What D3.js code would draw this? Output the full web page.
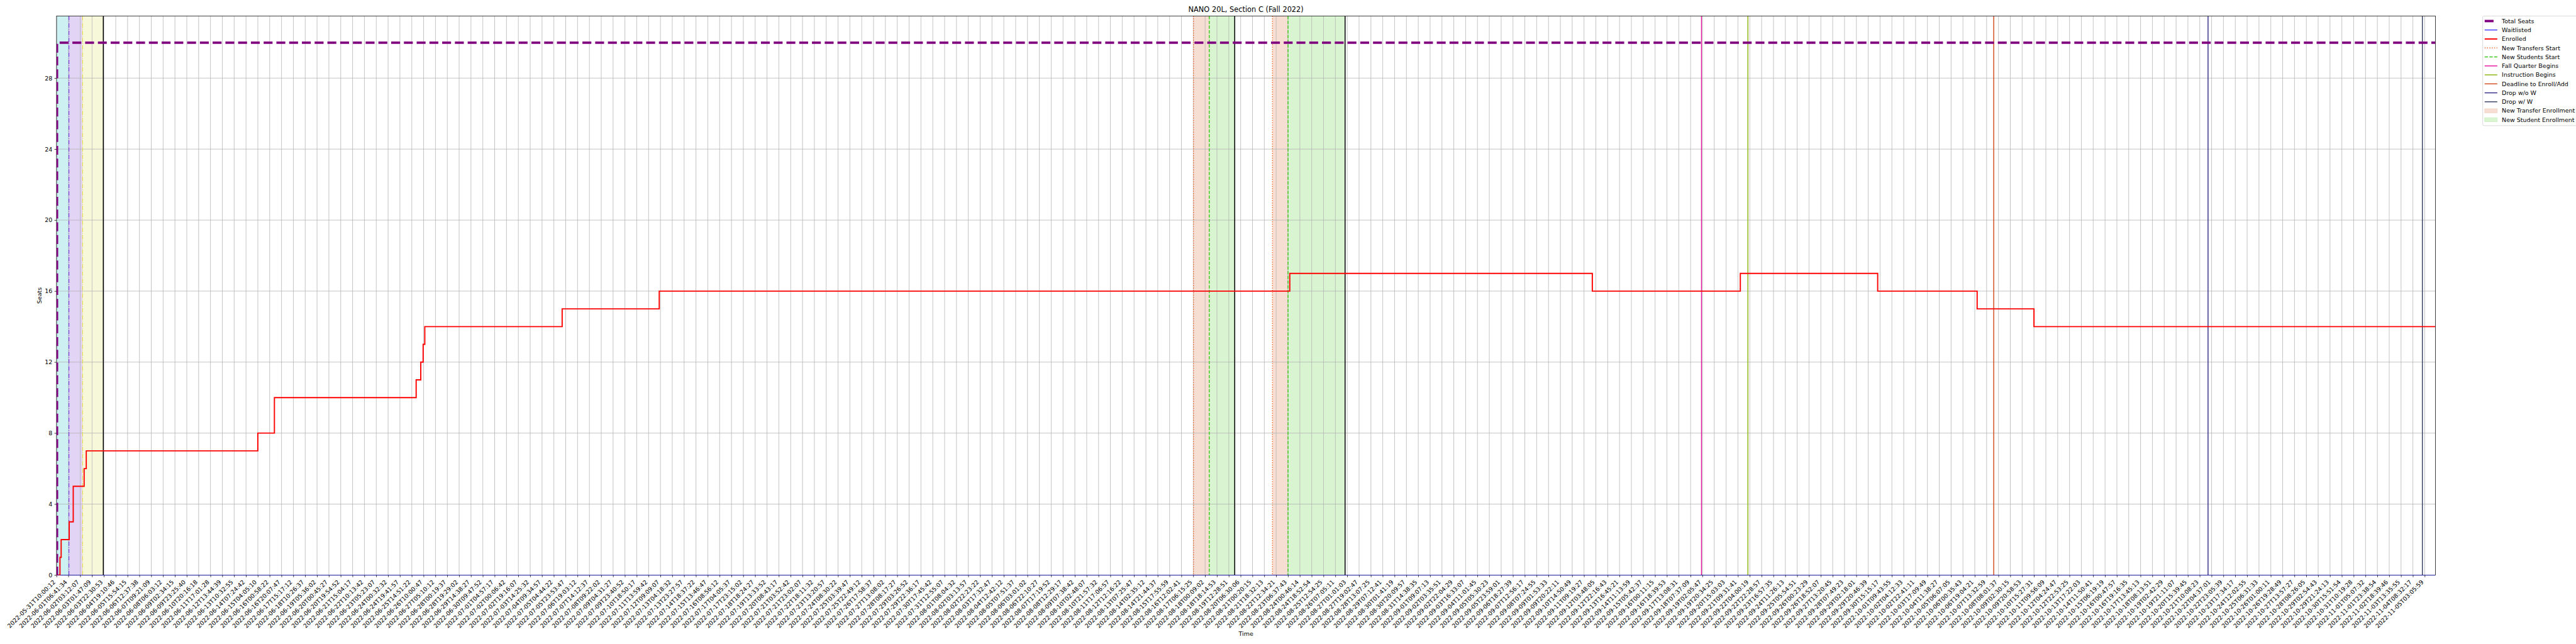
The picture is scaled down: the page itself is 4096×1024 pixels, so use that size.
<!DOCTYPE html>
<html><head><meta charset="utf-8">
<script src="https://cdn.jsdelivr.net/npm/d3@7"></script>
<style>body{margin:0;background:#fff}svg{display:block}text{font-family:"DejaVu Sans",sans-serif;fill:#000}</style>
</head><body>
<script>
// ---------------- data ----------------
const chartTitle = "NANO 20L, Section C (Fall 2022)";
const xLabel = "Time";
const yLabel = "Seats";
const yTicks = [0, 4, 8, 12, 16, 20, 24, 28];
const tickLabels = [
"2022-05-31T10:00:12","2022-06-01T06:41:34","2022-06-02T03:12:07","2022-06-03T01:47:09","2022-06-03T22:30:53","2022-06-04T19:10:46","2022-06-05T15:54:15","2022-06-06T12:37:38","2022-06-07T09:21:09","2022-06-08T06:03:12",
"2022-06-09T02:34:15","2022-06-09T23:25:40","2022-06-10T20:16:18","2022-06-11T17:01:28","2022-06-12T13:44:39","2022-06-13T10:32:55","2022-06-14T07:24:42","2022-06-15T04:05:10","2022-06-16T00:58:22","2022-06-16T20:07:47",
"2022-06-17T15:17:12","2022-06-18T10:26:37","2022-06-19T05:36:02","2022-06-20T00:45:27","2022-06-20T19:54:52","2022-06-21T15:04:17","2022-06-22T10:13:42","2022-06-23T05:23:07","2022-06-24T00:32:32","2022-06-24T19:41:57",
"2022-06-25T14:51:22","2022-06-26T10:00:47","2022-06-27T05:10:12","2022-06-28T00:19:37","2022-06-28T19:29:02","2022-06-29T14:38:27","2022-06-30T09:47:52","2022-07-01T04:57:17","2022-07-02T00:06:42","2022-07-02T19:16:07",
"2022-07-03T14:25:32","2022-07-04T09:34:57","2022-07-05T04:44:22","2022-07-05T23:53:47","2022-07-06T19:03:12","2022-07-07T14:12:37","2022-07-08T09:22:02","2022-07-09T04:31:27","2022-07-09T23:40:52","2022-07-10T18:50:17",
"2022-07-11T13:59:42","2022-07-12T09:09:07","2022-07-13T04:18:32","2022-07-13T23:27:57","2022-07-14T18:37:22","2022-07-15T13:46:47","2022-07-16T08:56:12","2022-07-17T04:05:37","2022-07-17T23:15:02","2022-07-18T18:24:27",
"2022-07-19T13:33:52","2022-07-20T08:43:17","2022-07-21T03:52:42","2022-07-21T23:02:07","2022-07-22T18:11:32","2022-07-23T13:20:57","2022-07-24T08:30:22","2022-07-25T03:39:47","2022-07-25T22:49:12","2022-07-26T17:58:37",
"2022-07-27T13:08:02","2022-07-28T08:17:27","2022-07-29T03:26:52","2022-07-29T22:36:17","2022-07-30T17:45:42","2022-07-31T12:55:07","2022-08-01T08:04:32","2022-08-02T03:13:57","2022-08-02T22:23:22","2022-08-03T17:32:47",
"2022-08-04T12:42:12","2022-08-05T07:51:37","2022-08-06T03:01:02","2022-08-06T22:10:27","2022-08-07T17:19:52","2022-08-08T12:29:17","2022-08-09T07:38:42","2022-08-10T02:48:07","2022-08-10T21:57:32","2022-08-11T17:06:57",
"2022-08-12T12:16:22","2022-08-13T07:25:47","2022-08-14T02:35:12","2022-08-14T21:44:37","2022-08-15T17:55:59","2022-08-16T12:02:41","2022-08-17T06:15:25","2022-08-18T00:09:02","2022-08-18T18:14:53","2022-08-19T12:28:51",
"2022-08-20T06:30:06","2022-08-21T00:20:15","2022-08-21T18:32:13","2022-08-22T12:34:21","2022-08-23T06:37:43","2022-08-24T00:46:14","2022-08-24T18:52:54","2022-08-25T12:54:25","2022-08-26T07:05:11","2022-08-27T01:01:03",
"2022-08-27T19:02:47","2022-08-28T13:07:25","2022-08-29T07:12:41","2022-08-30T01:41:19","2022-08-30T20:09:57","2022-08-31T14:38:35","2022-09-01T09:07:13","2022-09-02T03:35:51","2022-09-02T22:04:29","2022-09-03T16:33:07",
"2022-09-04T11:01:45","2022-09-05T05:30:23","2022-09-05T23:59:01","2022-09-06T18:27:39","2022-09-07T12:56:17","2022-09-08T07:24:55","2022-09-09T01:53:33","2022-09-09T20:22:11","2022-09-10T14:50:49","2022-09-11T09:19:27",
"2022-09-12T03:48:05","2022-09-12T22:16:43","2022-09-13T16:45:21","2022-09-14T11:13:59","2022-09-15T05:42:37","2022-09-16T00:11:15","2022-09-16T18:39:53","2022-09-17T13:08:31","2022-09-18T07:37:09","2022-09-19T02:05:47",
"2022-09-19T20:34:25","2022-09-20T15:03:03","2022-09-21T09:31:41","2022-09-22T04:00:19","2022-09-22T22:28:57","2022-09-23T16:57:35","2022-09-24T11:26:13","2022-09-25T05:54:51","2022-09-26T00:23:29","2022-09-26T18:52:07",
"2022-09-27T13:20:45","2022-09-28T07:49:23","2022-09-29T02:18:01","2022-09-29T20:46:39","2022-09-30T15:15:17","2022-10-01T09:43:55","2022-10-02T04:12:33","2022-10-02T22:41:11","2022-10-03T17:09:49","2022-10-04T11:38:27",
"2022-10-05T06:07:05","2022-10-06T00:35:43","2022-10-06T19:04:21","2022-10-07T13:32:59","2022-10-08T08:01:37","2022-10-09T02:30:15","2022-10-09T20:58:53","2022-10-10T15:27:31","2022-10-11T09:56:09","2022-10-12T04:24:47",
"2022-10-12T22:53:25","2022-10-13T17:22:03","2022-10-14T11:50:41","2022-10-15T06:19:19","2022-10-16T00:47:57","2022-10-16T19:16:35","2022-10-17T13:45:13","2022-10-18T08:13:51","2022-10-19T02:42:29","2022-10-19T21:11:07",
"2022-10-20T15:39:45","2022-10-21T10:08:23","2022-10-22T04:37:01","2022-10-22T23:05:39","2022-10-23T17:34:17","2022-10-24T12:02:55","2022-10-25T06:31:33","2022-10-26T01:00:11","2022-10-26T19:28:49","2022-10-27T13:57:27",
"2022-10-28T08:26:05","2022-10-29T02:54:43","2022-10-29T21:24:13","2022-10-30T15:51:54","2022-10-31T10:19:28","2022-11-01T05:07:32","2022-11-01T23:38:54","2022-11-02T18:39:46","2022-11-03T13:35:55","2022-11-04T08:32:17",
"2022-11-05T03:05:59"
];
const xEnd = 200.9; // right end of the time axis, in tick positions

const totalSeatsX = [0, 0.036, xEnd];
const totalSeatsY = [0, 30, 30];
const waitlistedX = [0, xEnd];
const waitlistedY = [0, 0];
const enrolledX = [0, 0.29, 0.39, 1.07, 1.41, 2.33, 2.51, 17.0, 18.4, 30.37, 30.76, 30.96, 31.1, 42.7, 50.9, 104.15, 129.7, 142.2, 153.8, 162.2, 167.0, xEnd];
const enrolledY = [0, 1, 2, 3, 5, 6, 7, 8, 10, 11, 12, 13, 14, 15, 16, 17, 16, 17, 16, 15, 14, 14];

// event markers (vertical lines)
const transfersStart = [96.02, 102.69];
const studentsStart = [97.35, 104.0];
const fallQuarterBegins = [138.92];
const instructionBegins = [142.84];
const deadlineEnrollAdd = [163.6];
const dropNoW = [181.7];
const dropW = [199.8];
const passOneStart = [1.05];
const passTwoStart = [2.2];
const periodEnds = [3.95, 99.5, 108.82];

// shaded periods
const passZeroSpan = [[0, 1.05]];
const passOneSpan = [[1.05, 2.2]];
const passTwoSpan = [[2.2, 3.95]];
const transferEnrollSpans = [[96.02, 97.35], [102.69, 104.0]];
const studentEnrollSpans = [[97.35, 99.5], [104.0, 108.82]];

// ---------------- drawing ----------------
const W = 6000, H = 1500;
const svg = d3.select("body").append("svg")
  .attr("width", 4096).attr("height", 1024)
  .attr("viewBox", `0 0 ${W} ${H}`);
svg.append("rect").attr("width", W).attr("height", H).attr("fill", "#fff");

const M = {l: 131.7, r: 5672.5, t: 37.3, b: 1339.5};
const x = d3.scaleLinear().domain([0, xEnd]).range([M.l, M.r]);
const y = d3.scaleLinear().domain([0, 31.5]).range([M.b, M.t]);
const FS = 13.9;

svg.append("clipPath").attr("id", "clip").append("rect")
  .attr("x", M.l).attr("y", M.t).attr("width", M.r - M.l).attr("height", M.b - M.t);
const plot = svg.append("g").attr("clip-path", "url(#clip)");

function spans(list, color) {
  plot.append("g").selectAll("rect").data(list).join("rect")
    .attr("x", d => x(d[0])).attr("width", d => x(d[1]) - x(d[0]))
    .attr("y", M.t).attr("height", M.b - M.t).attr("fill", color);
}
spans(passZeroSpan, "#cdf0f2");
spans(passOneSpan, "#e2d4f5");
spans(passTwoSpan, "#f7f8da");
spans(transferEnrollSpans, "#f6ded3");
spans(studentEnrollSpans, "#d9f4d1");

// grid
const tickIdx = d3.range(tickLabels.length);
plot.append("g").selectAll("line").data(tickIdx).join("line")
  .attr("x1", d => x(d)).attr("x2", d => x(d)).attr("y1", M.t).attr("y2", M.b)
  .attr("stroke", "#b0b0b0").attr("stroke-width", 1.1);
plot.append("g").selectAll("line").data(yTicks).join("line")
  .attr("x1", M.l).attr("x2", M.r).attr("y1", d => y(d)).attr("y2", d => y(d))
  .attr("stroke", "#b0b0b0").attr("stroke-width", 1.1);

function vlines(list, color, w, dash) {
  plot.append("g").selectAll("line").data(list).join("line")
    .attr("x1", d => x(d)).attr("x2", d => x(d)).attr("y1", M.t).attr("y2", M.b)
    .attr("stroke", color).attr("stroke-width", w)
    .attr("stroke-dasharray", dash || null);
}
const DOT = "2.1,3.4", DASH = "7.7,3.3", DASHDOT = "10.2,2.6,1.6,2.6";
vlines(passOneStart, "#7030e0", 1.6, DASHDOT);
vlines(passTwoStart, "#e8e23c", 1.6, DASHDOT);
vlines(periodEnds, "#000", 2.2);
vlines(transfersStart, "#f06b30", 2.1, DOT);
vlines(studentsStart, "#3ec81c", 2.1, DASH);
vlines(fallQuarterBegins, "#e5139a", 2.1);
vlines(instructionBegins, "#88b40c", 2.1);
vlines(deadlineEnrollAdd, "#d04a1e", 2.1);
vlines(dropNoW, "#302a84", 2.1);
vlines(dropW, "#34405f", 2.1);

const step = d3.line().x(d => x(d[0])).y(d => y(d[1])).curve(d3.curveStepAfter);
const zip = (a, b) => a.map((v, i) => [v, b[i]]);

// axes
const xAxis = d3.axisBottom(x).tickValues(tickIdx).tickFormat(i => tickLabels[i])
  .tickSize(4.9).tickPadding(0);
const gx = svg.append("g").attr("transform", `translate(0,${M.b})`).call(xAxis);
gx.select(".domain").remove();
gx.selectAll("line").attr("stroke", "#000").attr("stroke-width", 1.1);
gx.selectAll("text").attr("font-size", FS).attr("text-anchor", "end")
  .attr("x", null).attr("y", null).attr("dy", null)
  .attr("transform", "translate(-2.2,17.3) rotate(-45)");

const yAxis = d3.axisLeft(y).tickValues(yTicks).tickSize(4.9).tickPadding(4.9);
const gy = svg.append("g").attr("transform", `translate(${M.l},0)`).call(yAxis);
gy.select(".domain").remove();
gy.selectAll("line").attr("stroke", "#000").attr("stroke-width", 1.1);
gy.selectAll("text").attr("font-size", FS);

svg.append("rect").attr("x", M.l).attr("y", M.t).attr("width", M.r - M.l).attr("height", M.b - M.t)
  .attr("fill", "none").attr("stroke", "#000").attr("stroke-width", 1.1);

// series
const lines = svg.append("g").attr("clip-path", "url(#clip)");
lines.append("path").datum(zip(waitlistedX, waitlistedY)).attr("d", step)
  .attr("fill", "none").attr("stroke", "#0000ff").attr("stroke-width", 1.6);
lines.append("path").datum(zip(enrolledX, enrolledY)).attr("d", step)
  .attr("fill", "none").attr("stroke", "#ff0000").attr("stroke-width", 2.8);
lines.append("path").datum(zip(totalSeatsX, totalSeatsY)).attr("d", step)
  .attr("fill", "none").attr("stroke", "#800080").attr("stroke-width", 5.6)
  .attr("stroke-dasharray", "20.7,9");

// titles
svg.append("text").attr("x", (M.l + M.r) / 2).attr("y", 28.5).attr("text-anchor", "middle")
  .attr("font-size", 16.7).text(chartTitle);
svg.append("text").attr("x", (M.l + M.r) / 2).attr("y", 1481).attr("text-anchor", "middle")
  .attr("font-size", FS).text(xLabel);
svg.append("text").attr("transform", `translate(96.5,${(M.t + M.b) / 2}) rotate(-90)`)
  .attr("text-anchor", "middle").attr("font-size", FS).text(yLabel);

// legend
const legendItems = [
  {name: "Total Seats", type: "line", color: "#800080", w: 5.6, dash: "20.7,9"},
  {name: "Waitlisted", type: "line", color: "#0000ff", w: 1.6},
  {name: "Enrolled", type: "line", color: "#ff0000", w: 2.8},
  {name: "New Transfers Start", type: "line", color: "#f06b30", w: 2.1, dash: DOT},
  {name: "New Students Start", type: "line", color: "#3ec81c", w: 2.1, dash: DASH},
  {name: "Fall Quarter Begins", type: "line", color: "#e5139a", w: 2.1},
  {name: "Instruction Begins", type: "line", color: "#88b40c", w: 2.1},
  {name: "Deadline to Enroll/Add", type: "line", color: "#d04a1e", w: 2.1},
  {name: "Drop w/o W", type: "line", color: "#302a84", w: 2.1},
  {name: "Drop w/ W", type: "line", color: "#34405f", w: 2.1},
  {name: "New Transfer Enrollment", type: "rect", color: "#f6ded3", edge: "#f2cfc0"},
  {name: "New Student Enrollment", type: "rect", color: "#d9f4d1", edge: "#c8eebd"}
];
const lg = svg.append("g");
lg.append("rect").attr("x", 5782.7).attr("y", 37.3).attr("width", 240).attr("height", 255.4)
  .attr("rx", 3).attr("fill", "#fff").attr("stroke", "#cccccc").attr("stroke-width", 1.1);
const rows = lg.selectAll("g.row").data(legendItems).join("g")
  .attr("transform", (d, i) => `translate(0,${49 + i * 20.9})`);
rows.filter(d => d.type === "line").append("line")
  .attr("x1", 5787.3).attr("x2", 5816.7).attr("y1", 0).attr("y2", 0)
  .attr("stroke", d => d.color).attr("stroke-width", d => d.w)
  .attr("stroke-dasharray", d => d.dash || null);
rows.filter(d => d.type === "rect").append("rect")
  .attr("x", 5787.3).attr("y", -4.7).attr("width", 29.4).attr("height", 9.4)
  .attr("fill", d => d.color).attr("stroke", d => d.edge).attr("stroke-width", 1);
rows.append("text").attr("x", 5827.3).attr("y", 4.9).attr("font-size", FS).text(d => d.name);
</script>
</body></html>
